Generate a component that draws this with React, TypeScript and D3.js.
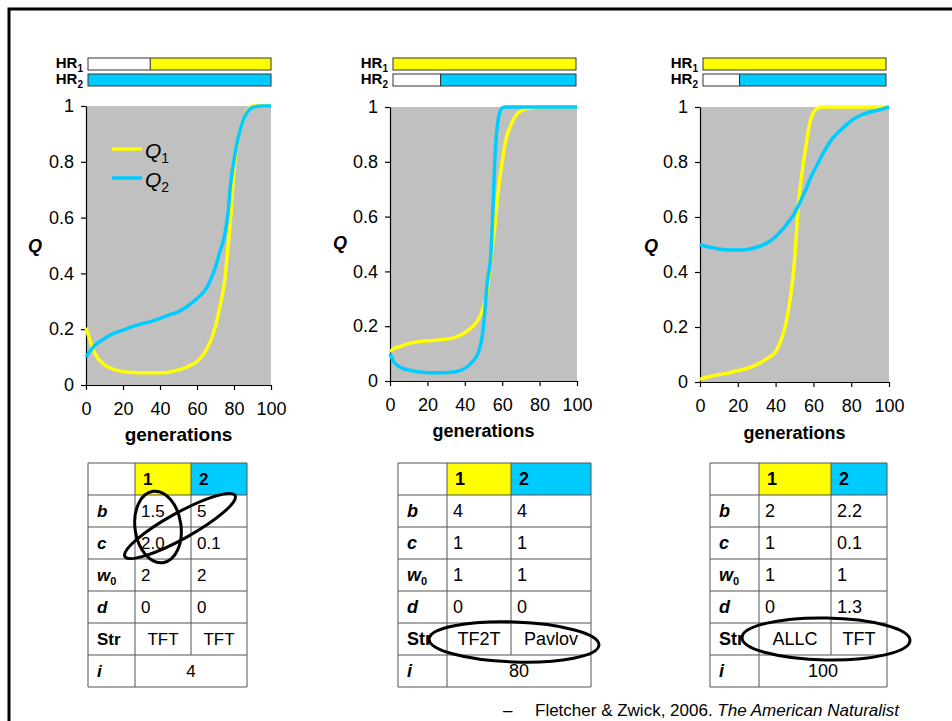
import React, { useRef, useEffect } from "react";
import * as d3 from "d3";

// three simulations, Q of each population over generations
const gens1 = [0, 5, 10, 15, 20, 25, 30, 35, 40, 45, 50, 55, 60, 65, 70, 72, 75, 77, 78, 80, 82, 85, 88, 90, 95, 100];
const q1Run1 = [0.205, 0.11, 0.072, 0.056, 0.048, 0.045, 0.044, 0.044, 0.044, 0.046, 0.054, 0.066, 0.084, 0.125, 0.21, 0.27, 0.376, 0.51, 0.58, 0.77, 0.88, 0.95, 0.99, 1, 1, 1];
const q2Run1 = [0.1, 0.143, 0.167, 0.185, 0.197, 0.209, 0.219, 0.227, 0.239, 0.251, 0.263, 0.283, 0.31, 0.346, 0.424, 0.47, 0.54, 0.63, 0.71, 0.806, 0.88, 0.95, 0.985, 0.995, 1, 1];

const gens2 = [0, 2, 5, 10, 15, 20, 25, 30, 35, 40, 44, 47, 49, 50, 52, 54, 55, 56, 58, 60, 62, 65, 68, 70, 75, 80, 90, 100];
const q1Run2 = [0.107, 0.118, 0.125, 0.137, 0.143, 0.147, 0.149, 0.152, 0.16, 0.176, 0.198, 0.222, 0.25, 0.27, 0.33, 0.45, 0.5, 0.56, 0.7, 0.8, 0.88, 0.94, 0.975, 0.985, 0.997, 1, 1, 1];
const q2Run2 = [0.1, 0.07, 0.052, 0.04, 0.034, 0.03, 0.03, 0.031, 0.034, 0.046, 0.07, 0.1, 0.15, 0.2, 0.36, 0.47, 0.62, 0.8, 0.96, 0.997, 1, 1, 1, 1, 1, 1, 1, 1];

const gens3 = [0, 5, 10, 15, 20, 25, 30, 35, 40, 43, 45, 47, 49, 50, 51, 52, 54, 56, 58, 60, 62, 65, 70, 75, 80, 85, 90, 95, 100];
const q1Run3 = [0.01, 0.02, 0.027, 0.033, 0.041, 0.05, 0.063, 0.083, 0.11, 0.154, 0.2, 0.27, 0.37, 0.44, 0.54, 0.64, 0.76, 0.855, 0.94, 0.98, 0.995, 1, 1, 1, 1, 1, 1, 1, 1];
const q2Run3 = [0.5, 0.49, 0.484, 0.48, 0.48, 0.482, 0.49, 0.504, 0.528, 0.55, 0.565, 0.585, 0.603, 0.613, 0.628, 0.64, 0.67, 0.7, 0.735, 0.764, 0.79, 0.83, 0.885, 0.92, 0.95, 0.97, 0.982, 0.99, 1];

// generation where each HR bar turns coloured
const hr1Start = [34, 0, 0];
const hr2Start = [0, 26, 20];

// parameter tables
const headers = ["1", "2"];
const bValues = [["1.5", "5"], ["4", "4"], ["2", "2.2"]];
const cValues = [["2.0", "0.1"], ["1", "1"], ["1", "0.1"]];
const w0Values = [["2", "2"], ["1", "1"], ["1", "1"]];
const dValues = [["0", "0"], ["0", "0"], ["0", "1.3"]];
const strategies = [["TFT", "TFT"], ["TF2T", "Pavlov"], ["ALLC", "TFT"]];
const iValues = ["4", "80", "100"];
const rowKeys = ["head", "b", "c", "w0", "d", "Str", "i"];

const YELLOW = "#ffff00";
const BLUE = "#00ccff";
const FONT = "Arial, 'Liberation Sans', sans-serif";

const layout = [
  { x0: 86, x1: 271, y0: 106, y1: 385, hrX0: 88, hrX1: 271, qX: 35, qY: 252, genY: 441, genSize: 19, tblX: 88, cols: [47, 56, 56], tblFont: 17 },
  { x0: 390, x1: 577, y0: 107, y1: 381, hrX0: 393, hrX1: 576, qX: 340, qY: 249, genY: 437, genSize: 18, tblX: 398, cols: [49, 64, 80], tblFont: 18 },
  { x0: 700, x1: 889, y0: 107, y1: 382, hrX0: 703, hrX1: 886, qX: 651, qY: 252, genY: 439, genSize: 18, tblX: 710, cols: [49, 72, 56], tblFont: 18 },
];

const runs = [
  { gens: gens1, q1: q1Run1, q2: q2Run1 },
  { gens: gens2, q1: q1Run2, q2: q2Run2 },
  { gens: gens3, q1: q1Run3, q2: q2Run3 },
];

const ellipses = [
  { cx: 158, cy: 527, rx: 23, ry: 36, rot: -8 },
  { cx: 180, cy: 526, rx: 63, ry: 13, rot: -29 },
  { cx: 514, cy: 642, rx: 85, ry: 20, rot: 2 },
  { cx: 826, cy: 639, rx: 84, ry: 21, rot: 1 },
];

const drawChart = (elt: SVGSVGElement) => {
  const svg = d3.select(elt);
  svg.selectAll("*").remove();

  // slide frame
  svg.append("path")
    .attr("d", "M9,721 L9,9 L952,9")
    .attr("fill", "none")
    .attr("stroke", "#000")
    .attr("stroke-width", 3);

  layout.forEach((p, k) => {
    const run = runs[k];
    const g = svg.append("g");

    const x = d3.scaleLinear().domain([0, 100]).range([p.x0, p.x1]);
    const y = d3.scaleLinear().domain([0, 1]).range([p.y1, p.y0]);
    const hrScale = d3.scaleLinear().domain([0, 100]).range([p.hrX0, p.hrX1]);

    // HR bars
    [hr1Start[k], hr2Start[k]].forEach((start, j) => {
      const by = 58 + j * 16;
      const col = j === 0 ? YELLOW : BLUE;
      g.append("rect").attr("x", hrScale(0)).attr("y", by).attr("width", hrScale(100) - hrScale(0)).attr("height", 12)
        .attr("fill", "#fff");
      g.append("rect").attr("x", hrScale(start)).attr("y", by).attr("width", hrScale(100) - hrScale(start)).attr("height", 12)
        .attr("fill", col);
      g.append("rect").attr("x", hrScale(0)).attr("y", by).attr("width", hrScale(100) - hrScale(0)).attr("height", 12)
        .attr("fill", "none").attr("stroke", "#333").attr("stroke-width", 1);
      if (start > 0) {
        g.append("line").attr("x1", hrScale(start)).attr("x2", hrScale(start)).attr("y1", by).attr("y2", by + 12)
          .attr("stroke", "#222").attr("stroke-width", 1);
      }
      const t = g.append("text").attr("x", p.hrX0 - 5).attr("y", by + 10).attr("text-anchor", "end")
        .attr("font-family", FONT).attr("font-weight", "bold").attr("font-size", 15);
      t.append("tspan").text("HR");
      t.append("tspan").attr("font-size", 10).attr("dy", 4).text(String(j + 1));
    });

    // plot area
    g.append("rect").attr("x", p.x0).attr("y", p.y0).attr("width", p.x1 - p.x0).attr("height", p.y1 - p.y0)
      .attr("fill", "#c0c0c0");

    const yAxis = g.append("g").attr("transform", `translate(${p.x0},0)`)
      .call(d3.axisLeft(y).ticks(5).tickSize(5).tickSizeOuter(0).tickPadding(7).tickFormat(d3.format("")));
    const xAxis = g.append("g").attr("transform", `translate(0,${p.y1})`)
      .call(d3.axisBottom(x).ticks(5).tickSize(5).tickSizeOuter(0).tickPadding(12));
    [yAxis, xAxis].forEach((a) => {
      a.attr("font-family", FONT).attr("font-size", 18);
      a.selectAll("path,line").attr("stroke", "#000").attr("stroke-width", 1.2);
      a.selectAll("text").attr("fill", "#000");
    });

    const line = (vals: number[]) =>
      d3.line<number>().x((_, i) => x(run.gens[i])).y((d) => y(d)).curve(d3.curveMonotoneX)(vals);

    g.append("path").attr("d", line(run.q1)).attr("fill", "none").attr("stroke", YELLOW).attr("stroke-width", 3.5);
    g.append("path").attr("d", line(run.q2)).attr("fill", "none").attr("stroke", BLUE).attr("stroke-width", 3.5);

    g.append("text").attr("x", p.qX).attr("y", p.qY).attr("text-anchor", "middle")
      .attr("font-family", FONT).attr("font-weight", "bold").attr("font-style", "italic").attr("font-size", 18).text("Q");
    g.append("text").attr("x", (p.x0 + p.x1) / 2).attr("y", p.genY).attr("text-anchor", "middle")
      .attr("font-family", FONT).attr("font-weight", "bold").attr("font-size", p.genSize).text("generations");

    // table
    const rows = d3.scaleBand().domain(rowKeys).range([463, 687]);
    const cx = [p.tblX, p.tblX + p.cols[0], p.tblX + p.cols[0] + p.cols[1], p.tblX + p.cols[0] + p.cols[1] + p.cols[2]];
    const rh = rows.bandwidth();
    const tbl = g.append("g").attr("font-family", FONT).attr("font-size", p.tblFont);

    tbl.append("rect").attr("x", cx[0]).attr("y", rows("head")!).attr("width", cx[3] - cx[0]).attr("height", rh * 7).attr("fill", "#fff");
    tbl.append("rect").attr("x", cx[1]).attr("y", rows("head")!).attr("width", cx[2] - cx[1]).attr("height", rh).attr("fill", YELLOW);
    tbl.append("rect").attr("x", cx[2]).attr("y", rows("head")!).attr("width", cx[3] - cx[2]).attr("height", rh).attr("fill", BLUE);

    const gridColor = "#555";
    rowKeys.concat(["end"]).forEach((_, r) => {
      const yy = 463 + r * rh;
      tbl.append("line").attr("x1", cx[0]).attr("x2", cx[3]).attr("y1", yy).attr("y2", yy).attr("stroke", gridColor).attr("stroke-width", 1);
    });
    [0, 1, 3].forEach((c) => {
      tbl.append("line").attr("x1", cx[c]).attr("x2", cx[c]).attr("y1", 463).attr("y2", 687).attr("stroke", gridColor).attr("stroke-width", 1);
    });
    tbl.append("line").attr("x1", cx[2]).attr("x2", cx[2]).attr("y1", 463).attr("y2", rows("i")!).attr("stroke", gridColor).attr("stroke-width", 1);

    const base = (key: string) => rows(key)! + rh / 2 + 6;

    headers.forEach((h, c) => {
      tbl.append("text").attr("x", cx[c + 1] + 8).attr("y", base("head")).attr("font-weight", "bold").text(h);
    });

    const label = (key: string, text: string, italic: boolean, sub?: string) => {
      const t = tbl.append("text").attr("x", cx[0] + 9).attr("y", base(key)).attr("font-weight", "bold")
        .attr("font-style", italic ? "italic" : "normal");
      t.append("tspan").text(text);
      if (sub) t.append("tspan").attr("font-size", 11).attr("font-style", "normal").attr("dy", 4).text(sub);
    };
    label("b", "b", true);
    label("c", "c", true);
    label("w0", "w", true, "0");
    label("d", "d", true);
    label("Str", "Str", false);
    label("i", "i", true);

    const values: [string, string[]][] = [["b", bValues[k]], ["c", cValues[k]], ["w0", w0Values[k]], ["d", dValues[k]]];
    values.forEach(([key, v]) => {
      v.forEach((val, c) => {
        tbl.append("text").attr("x", cx[c + 1] + 6).attr("y", base(key)).text(val);
      });
    });
    strategies[k].forEach((val, c) => {
      tbl.append("text").attr("x", (cx[c + 1] + cx[c + 2]) / 2).attr("y", base("Str")).attr("text-anchor", "middle").text(val);
    });
    tbl.append("text").attr("x", (cx[1] + cx[3]) / 2).attr("y", base("i")).attr("text-anchor", "middle").text(iValues[k]);
  });

  // legend in first panel
  const legend = svg.append("g").attr("font-family", FONT);
  [["1", YELLOW, 149], ["2", BLUE, 178]].forEach(([n, col, ly]) => {
    legend.append("line").attr("x1", 112).attr("x2", 142).attr("y1", ly as number).attr("y2", ly as number)
      .attr("stroke", col as string).attr("stroke-width", 3.5);
    const t = legend.append("text").attr("x", 145).attr("y", (ly as number) + 9).attr("font-size", 21);
    t.append("tspan").attr("font-style", "italic").text("Q");
    t.append("tspan").attr("font-size", 14).attr("dy", 5).text(n as string);
  });

  // annotation ellipses
  ellipses.forEach((e) => {
    svg.append("ellipse").attr("cx", 0).attr("cy", 0).attr("rx", e.rx).attr("ry", e.ry)
      .attr("transform", `translate(${e.cx},${e.cy}) rotate(${e.rot})`)
      .attr("fill", "none").attr("stroke", "#000").attr("stroke-width", 3);
  });

  // citation
  const cite = svg.append("text").attr("y", 716).attr("font-family", FONT).attr("font-size", 17);
  cite.append("tspan").attr("x", 503).text("–");
  cite.append("tspan").attr("x", 535).text("Fletcher & Zwick, 2006. ");
  cite.append("tspan").attr("font-style", "italic").text("The American Naturalist");
};

const App = () => {
  const ref = useRef<SVGSVGElement>(null);

  useEffect(() => {
    if (ref.current) drawChart(ref.current);
  }, []);

  return (
    <svg
      ref={ref}
      width={952}
      height={721}
      style={{ position: "absolute", left: 0, top: 0, background: "#fff" }}
    />
  );
};

export default App;
